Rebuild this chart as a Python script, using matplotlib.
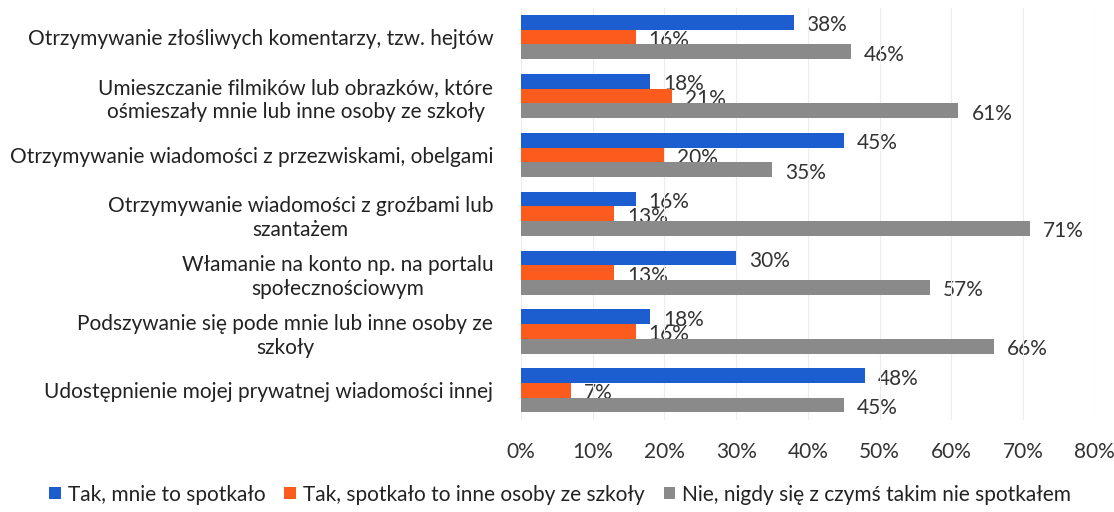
import numpy as np
import matplotlib.pyplot as plt
from matplotlib.ticker import FuncFormatter

categories = [
    "Otrzymywanie złośliwych komentarzy, tzw. hejtów",
    "Umieszczanie filmików lub obrazków, które\nośmieszały mnie lub inne osoby ze szkoły",
    "Otrzymywanie wiadomości z przezwiskami, obelgami",
    "Otrzymywanie wiadomości z groźbami lub\nszantażem",
    "Włamanie na konto np. na portalu\nspołecznościowym",
    "Podszywanie się pode mnie lub inne osoby ze\nszkoły",
    "Udostępnienie mojej prywatnej wiadomości innej",
]
series_names = [
    "Tak, mnie to spotkało",
    "Tak, spotkało to inne osoby ze szkoły",
    "Nie, nigdy się z czymś takim nie spotkałem",
]
tak_mnie = [38, 18, 45, 16, 30, 18, 48]
tak_inne = [16, 21, 20, 13, 13, 16, 7]
nie_nigdy = [46, 61, 35, 71, 57, 66, 45]
colors = ["#1c5ed0", "#fb5b1c", "#8a8a8a"]

plt.rcParams['font.family'] = ['Lato', 'DejaVu Sans']
fs = 15

fig = plt.figure(figsize=(11.14, 5.12), dpi=100)
ax = fig.add_axes([0.4677, 0.18, 0.515, 0.805])

y = np.arange(len(categories))
h = 0.25
for i, (vals, col, name) in enumerate(zip([tak_mnie, tak_inne, nie_nigdy], colors, series_names)):
    pos = y - h + i * h
    ax.barh(pos, vals, height=h, color=col, label=name, zorder=2)
    # labels sit under the bars, like in the scanned original
    for p, v in zip(pos, vals):
        ax.text(v + 1.8, p + 0.05, f"{v}%", va='center', ha='left',
                fontsize=fs, color='#333333', zorder=1)

ax.set_xlim(0, 80)
ax.set_ylim(len(categories) - 0.5, -0.5)
ax.set_xticks(np.arange(0, 81, 10))
ax.xaxis.set_major_formatter(FuncFormatter(lambda v, _: f"{int(v)}%"))
ax.set_yticks(y)
ax.set_yticklabels(categories, fontsize=fs, color='#222222', ha='right',
                   multialignment='center', linespacing=1.25)
ax.tick_params(axis='y', length=0, pad=20)
ax.tick_params(axis='x', length=0, pad=16, labelsize=fs, labelcolor='#333333')
ax.grid(axis='x', color='#ececec', linewidth=0.8, zorder=0)
for s in ax.spines.values():
    s.set_visible(False)

fig.legend(loc='lower center', bbox_to_anchor=(0.503, -0.022), ncol=3, frameon=False,
           fontsize=fs, handlelength=0.55, handleheight=0.55, handletextpad=0.35,
           columnspacing=0.9, labelcolor='#222222')

fig.savefig("out.png", dpi=100)
